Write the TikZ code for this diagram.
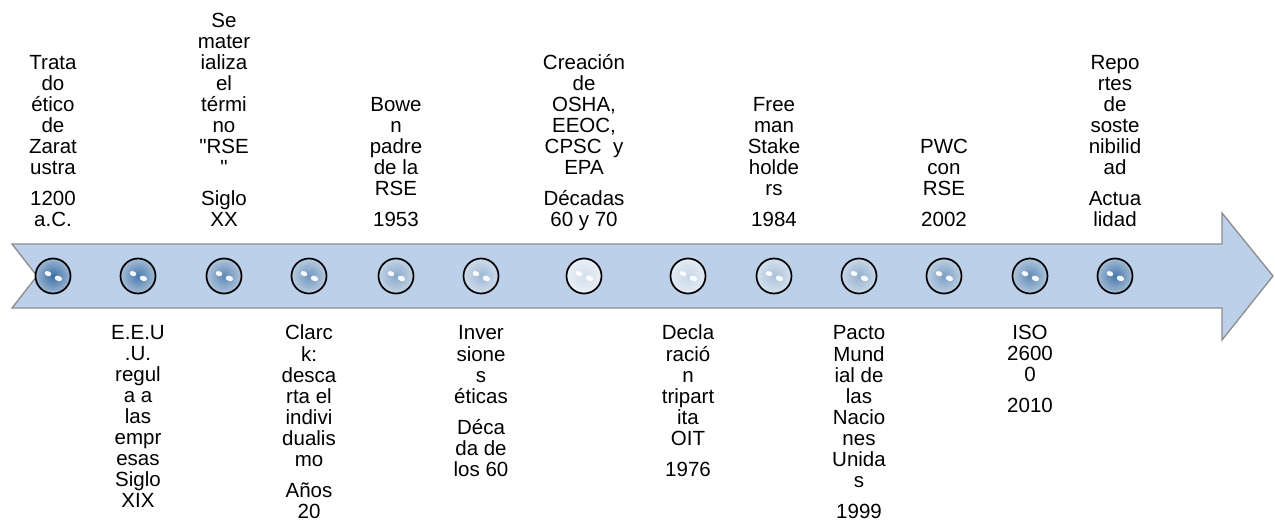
\documentclass[tikz,border=0pt]{standalone}
\usepackage{fontspec}
\setmainfont{Liberation Sans}[Ligatures=TeXOff]
\definecolor{arrowfill}{HTML}{BCD0E9}
\definecolor{arrowline}{HTML}{8C8C8C}
\definecolor{balldark}{HTML}{3A6EA5}
\definecolor{balllight}{HTML}{DCE6F2}
\tikzset{
  lbl/.style={font=\fontsize{20.5}{21}\selectfont, align=center, inner sep=0pt, text=black},
  toplbl/.style={lbl, anchor=south},
  botlbl/.style={lbl, anchor=north},
  arrowshape/.style={fill=arrowfill, draw=arrowline, line width=1.3pt, line join=miter},
  ball/.style={circle, minimum size=35pt, inner sep=0pt, draw=black, line width=1.7pt},
  shine/.style={fill=white, opacity=0.95}
}
\begin{document}
\begin{tikzpicture}[x=1pt, y=-1pt]
\useasboundingbox (0,0) rectangle (1275,524);
% arrow
\draw[arrowshape] (12,244) -- (1222,244) -- (1222,213) -- (1273,276) -- (1222,340) -- (1222,308) -- (12,308) -- (37,276) -- cycle;
% balls
\foreach \x/\m [count=\i] in {53/100,138/90,224/78,309/66,396/52,481/38,584/6,688/12,774/30,859/45,944/60,1030/76,1115/92}{
  \node[ball, inner color=balldark!\m!balllight, outer color=balldark!\m!balllight!50!white] (c\i) at (\x,276) {};
  \fill[shine] (c\i.center) ++(-5,-2.4) ellipse[x radius=3.4pt, y radius=2.4pt, rotate=-20];
  \fill[shine] (c\i.center) ++(5.4,2.4) ellipse[x radius=3.8pt, y radius=2.6pt, rotate=-20];
}
% top labels
\node[toplbl] (t1) at (53,233.3) {Trata\\do\\ético\\de\\Zarat\\ustra\\[10pt]1200\\a.C.\strut};
\node[toplbl] (t3) at (224,233.3) {Se\\mater\\ializa\\el\\térmi\\no\\"RSE\\"\\[10pt]Siglo\\XX\strut};
\node[toplbl] (t5) at (396,233.3) {Bowe\\n\\padre\\de la\\RSE\\[10pt]1953\strut};
\node[toplbl] (t7) at (584,233.3) {Creación\\de\\OSHA,\\EEOC,\\CPSC~~y\\EPA\\[10pt]Décadas\\60 y 70\strut};
\node[toplbl] (t9) at (774,233.3) {Free\\man\\Stake\\holde\\rs\\[10pt]1984\strut};
\node[toplbl] (t11) at (944,233.3) {PWC\\con\\RSE\\[10pt]2002\strut};
\node[toplbl] (t13) at (1115,233.3) {Repo\\rtes\\de\\soste\\nibilid\\ad\\[10pt]Actua\\lidad\strut};
% bottom labels
\node[botlbl] (b2) at (138,324.3) {\strut E.E.U\\.U.\\regul\\a a\\las\\empr\\esas\\Siglo\\XIX};
\node[botlbl] (b4) at (309,324.3) {\strut Clarc\\k:\\desca\\rta el\\indivi\\dualis\\mo\\[10pt]Años\\20};
\node[botlbl] (b6) at (481,324.3) {\strut Inver\\sione\\s\\éticas\\[10pt]Déca\\da de\\los 60};
\node[botlbl] (b8) at (688,324.3) {\strut Decla\\ració\\n\\tripart\\ita\\OIT\\[10pt]1976};
\node[botlbl] (b10) at (859,324.3) {\strut Pacto\\Mund\\ial de\\las\\Nacio\\nes\\Unida\\s\\[10pt]1999};
\node[botlbl] (b12) at (1030,324.3) {\strut ISO\\2600\\0\\[10pt]2010};
\end{tikzpicture}
\end{document}
